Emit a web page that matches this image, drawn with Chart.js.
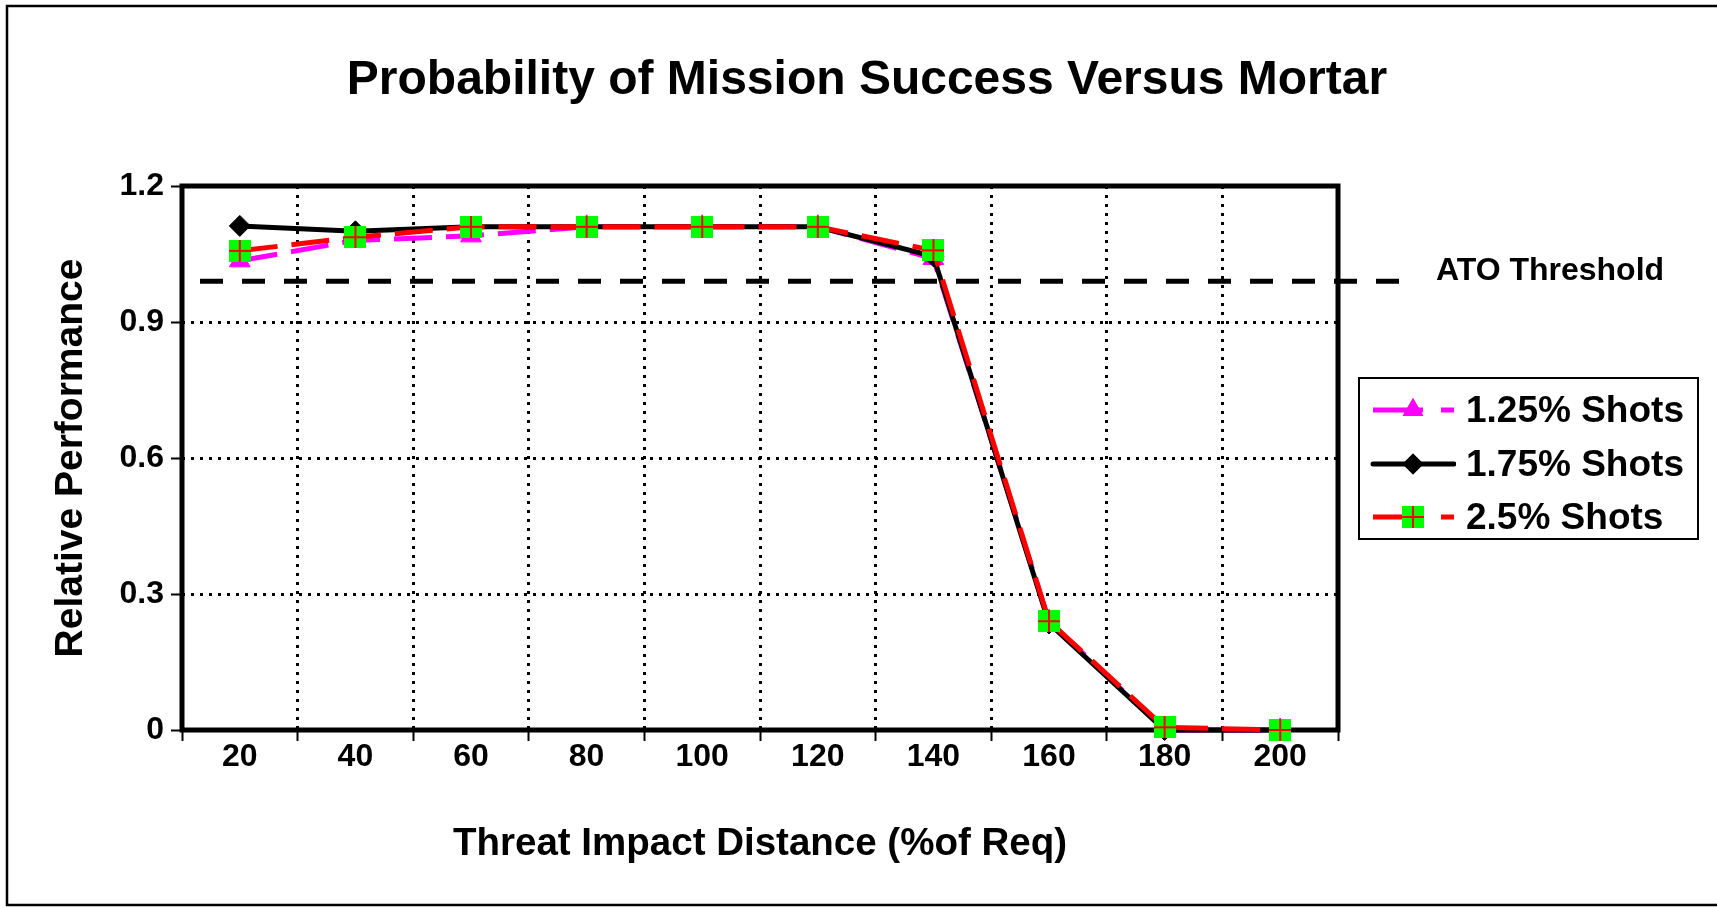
<!DOCTYPE html>
<html>
<head>
<meta charset="utf-8">
<script src="https://cdn.jsdelivr.net/npm/chart.js@4.4.1/dist/chart.umd.min.js"></script>
<style>
  html, body { margin: 0; padding: 0; background: #fff; }
  #wrap { position: relative; width: 1717px; height: 907px; }
  #legend {
    position: absolute; left: 1358px; top: 377px; width: 337px; height: 159px;
    border: 2px solid #000; background: #fff;
    font-family: "Liberation Sans", Arial, sans-serif; font-weight: bold; font-size: 37px; color: #000;
  }
  .row { position: absolute; left: 0; height: 50px; display: flex; align-items: center; }
  .row canvas { margin-left: 10px; margin-right: 10px; }
</style>
</head>
<body>
<div id="wrap">
  <canvas id="chart" width="1717" height="907"></canvas>
  <div id="legend"></div>
</div>
<script>
const categories = ['20', '40', '60', '80', '100', '120', '140', '160', '180', '200'];
const shots125 = [1.035, 1.08, 1.09, 1.11, 1.11, 1.11, 1.04, 0.24, 0.0, 0.0];
const shots175 = [1.112, 1.10, 1.11, 1.11, 1.11, 1.11, 1.045, 0.235, 0.0, 0.0];
const shots250 = [1.057, 1.087, 1.11, 1.11, 1.11, 1.11, 1.058, 0.24, 0.006, 0.0];
const seriesNames = ['1.25% Shots', '1.75% Shots', '2.5% Shots'];
const yTickLabels = ['0', '0.3', '0.6', '0.9', '1.2'];
const atoThreshold = 0.99;
const atoLabel = 'ATO Threshold';
const chartTitle = 'Probability of Mission Success Versus Mortar';

const FONT = '"Liberation Sans", Arial, sans-serif';
Chart.defaults.color = '#000';
Chart.defaults.font.family = FONT;
Chart.defaults.font.weight = 'bold';

// green square with red cross, used as a point style
function squareMarker(size) {
    const c = document.createElement('canvas');
    c.width = size; c.height = size;
    const g = c.getContext('2d');
    g.fillStyle = '#00ff00';
    g.fillRect(0, 0, size, size);
    g.strokeStyle = '#ff0000';
    g.lineWidth = 2;
    g.beginPath();
    g.moveTo(size / 2, 0); g.lineTo(size / 2, size);
    g.moveTo(0, size / 2); g.lineTo(size, size / 2);
    g.stroke();
    return c;
}
const greenSquare = squareMarker(22);

const frame = {
    id: 'frame',
    beforeDatasetsDraw(chart) {
        const {ctx, chartArea: a, scales} = chart;
        ctx.save();
        // plot border
        ctx.strokeStyle = '#000';
        ctx.lineWidth = 5;
        ctx.strokeRect(a.left, a.top, a.right - a.left, a.bottom - a.top);
        // ATO threshold line
        const y = scales.y.getPixelForValue(atoThreshold);
        ctx.lineWidth = 5;
        ctx.setLineDash([23, 19]);
        ctx.beginPath();
        ctx.moveTo(a.left + 18, y);
        ctx.lineTo(a.right + 62, y);
        ctx.stroke();
        ctx.setLineDash([]);
        ctx.fillStyle = '#000';
        ctx.textAlign = 'center';
        ctx.textBaseline = 'middle';
        ctx.font = 'bold 32px ' + FONT;
        ctx.fillText(atoLabel, 1550, y - 10);
        // title
        ctx.font = 'bold 48px ' + FONT;
        ctx.fillText(chartTitle, 867, 81);
        ctx.restore();
    },
    afterDraw(chart) {
        const {ctx} = chart;
        ctx.save();
        ctx.strokeStyle = '#000';
        ctx.lineWidth = 2.5;
        ctx.beginPath();
        ctx.moveTo(1720, 6); ctx.lineTo(7, 6); ctx.lineTo(7, 905); ctx.lineTo(1720, 905);
        ctx.stroke();
        ctx.restore();
    }
};

const datasets = [
    {
        label: seriesNames[0], data: shots125, order: 3, clip: false,
        borderColor: '#ff00ff', backgroundColor: '#ff00ff', borderWidth: 5, borderDash: [38, 14],
        pointStyle: 'triangle', pointRadius: 12, pointHoverRadius: 12, pointBorderWidth: 1,
        pointBackgroundColor: '#ff00ff', pointBorderColor: '#ff00ff'
    },
    {
        label: seriesNames[1], data: shots175, order: 2, clip: false,
        borderColor: '#000', backgroundColor: '#000', borderWidth: 5,
        pointStyle: 'rectRot', pointRadius: 10.5, pointHoverRadius: 10.5, pointBorderWidth: 1,
        pointBackgroundColor: '#000', pointBorderColor: '#000'
    },
    {
        label: seriesNames[2], data: shots250, order: 1, clip: false,
        borderColor: '#ff0000', backgroundColor: '#ff0000', borderWidth: 5, borderDash: [38, 14],
        pointStyle: greenSquare, pointRadius: 11, pointHoverRadius: 11
    }
];

new Chart(document.getElementById('chart'), {
    type: 'line',
    data: { labels: categories, datasets: datasets },
    plugins: [frame],
    options: {
        responsive: false,
        animation: false,
        events: [],
        layout: { padding: { left: 0, right: 379, top: 186, bottom: 0 } },
        elements: { line: { tension: 0, borderCapStyle: 'butt' } },
        plugins: {
            legend: { display: false },
            tooltip: { enabled: false },
            title: { display: false }
        },
        scales: {
            x: {
                offset: true,
                grid: {
                    offset: true, color: '#000', lineWidth: 3, borderDash: [3, 6],
                    tickLength: 11, tickWidth: 2, tickColor: '#000', tickBorderDash: []
                },
                border: { display: false, dash: [3, 6] },
                ticks: { font: { size: 32, weight: 'bold' }, padding: -3, maxRotation: 0 },
                title: {
                    display: true, text: 'Threat Impact Distance (%of Req)',
                    font: { size: 38.5, weight: 'bold' }, padding: { top: 0, bottom: 40 }
                },
                afterFit(scale) { scale.height = 177; }
            },
            y: {
                min: 0, max: 1.2,
                grid: {
                    color: '#000', lineWidth: 3, borderDash: [3, 6],
                    tickLength: 11, tickWidth: 2, tickColor: '#000', tickBorderDash: []
                },
                border: { display: false, dash: [3, 6] },
                ticks: {
                    stepSize: 0.3, padding: 7, font: { size: 32, weight: 'bold' },
                    callback: (v, i) => yTickLabels[i]
                },
                title: {
                    display: true, text: 'Relative Performance',
                    font: { size: 39, weight: 'bold' }, padding: { top: 48, bottom: 0 }
                },
                afterFit(scale) { scale.width = 182; }
            }
        }
    }
});

// legend with line + marker samples
const legend = document.getElementById('legend');
const rowTops = [6, 60, 113];
datasets.forEach((ds, i) => {
    const row = document.createElement('div');
    row.className = 'row';
    row.style.top = rowTops[i] + 'px';
    const c = document.createElement('canvas');
    c.width = 86; c.height = 40;
    const g = c.getContext('2d');
    g.strokeStyle = ds.borderColor;
    g.lineWidth = 5;
    if (ds.borderDash) { g.setLineDash([50, 18]); g.lineCap = 'butt'; } else { g.lineCap = 'round'; }
    g.beginPath(); g.moveTo(3, 20); g.lineTo(84, 20); g.stroke();
    g.setLineDash([]);
    if (ds.pointStyle instanceof HTMLCanvasElement) {
        g.drawImage(ds.pointStyle, 43 - 11, 20 - 11);
    } else {
        g.fillStyle = ds.pointBackgroundColor;
        Chart.helpers.drawPoint(g, { pointStyle: ds.pointStyle, radius: ds.pointRadius, borderWidth: 0, rotation: 0 }, 43, 20);
        g.fill();
    }
    row.appendChild(c);
    const t = document.createElement('span');
    t.textContent = ds.label;
    row.appendChild(t);
    legend.appendChild(row);
});
</script>
</body>
</html>
